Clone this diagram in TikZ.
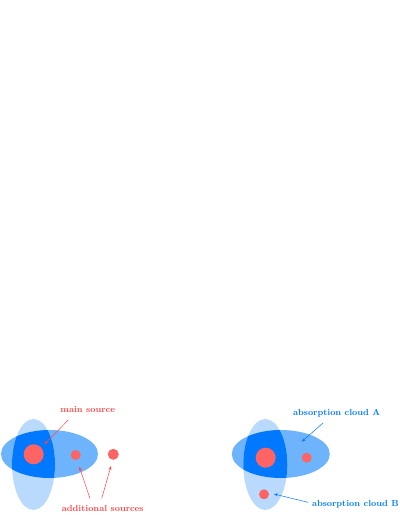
\documentclass[tikz,border=0pt]{standalone}
\usetikzlibrary{arrows.meta}
\definecolor{cdark}{RGB}{0,120,255}
\definecolor{cmed}{RGB}{110,180,252}
\definecolor{clight}{RGB}{185,218,252}
\definecolor{csrc}{RGB}{255,100,100}
\definecolor{ctxtred}{RGB}{255,70,70}
\definecolor{ctxtblue}{RGB}{0,120,255}
\tikzset{
  lbl/.style={font=\fontsize{8.8}{11}\selectfont\bfseries, inner sep=0pt},
  redlbl/.style={lbl, text=ctxtred},
  bluelbl/.style={lbl, text=ctxtblue},
  redarr/.style={draw=ctxtred, line width=0.5pt, -{Stealth[length=4pt,width=3pt]}},
  bluearr/.style={draw=ctxtblue, line width=0.5pt, -{Stealth[length=4pt,width=3pt]}},
  src/.style={fill=csrc},
}
\begin{document}
\begin{tikzpicture}[x=1pt,y=-1pt]
\useasboundingbox (0,0) rectangle (399,516);
% ---------- left panel ----------
\fill[cmed] (49.5,454) ellipse [x radius=48.5, y radius=24];
\fill[clight] (33.5,464.5) ellipse [x radius=21.5, y radius=45.5];
\begin{scope}
  \clip (49.5,454) ellipse [x radius=48.5, y radius=24];
  \fill[cdark] (33.5,464.5) ellipse [x radius=21.5, y radius=45.5];
\end{scope}
\fill[src] (33.7,454.3) circle [radius=10];
\fill[src] (75.7,455) circle [radius=5];
\fill[src] (113.3,454.3) circle [radius=5.5];
\coordinate (ms) at (44.3,444.3);
\coordinate (as1) at (79.3,466.7);
\coordinate (as2) at (111,466);
\node[redlbl] (mainlbl) at (87.7,410) {main source};
\node[redlbl] (addlbl) at (102.7,508.3) {additional sources};
\draw[redarr] (68.3,420) -- (ms);
\draw[redarr] (90,498.5) -- (as1);
\draw[redarr] (101.7,498.5) -- (as2);
% ---------- right panel ----------
\fill[cmed] (280.8,454) ellipse [x radius=49, y radius=24];
\fill[clight] (265.3,464.5) ellipse [x radius=22, y radius=45.5];
\begin{scope}
  \clip (280.8,454) ellipse [x radius=49, y radius=24];
  \fill[cdark] (265.3,464.5) ellipse [x radius=22, y radius=45.5];
\end{scope}
\fill[src] (265.7,457.7) circle [radius=10];
\fill[src] (306.7,457.7) circle [radius=5];
\fill[src] (264,494.3) circle [radius=5];
\coordinate (ca) at (301.7,441.7);
\coordinate (cb) at (274,494);
\coordinate (astart) at (323.3,422.7);
\coordinate (bstart) at (308,502.3);
\node[bluelbl] (alabel) at (336.7,413.3) {absorption cloud A};
\node[bluelbl, anchor=east] (blabel) at (399,504.3) {absorption cloud B};
\draw[bluearr] (astart) -- (ca);
\draw[bluearr] (bstart) -- (cb);
\end{tikzpicture}
\end{document}
